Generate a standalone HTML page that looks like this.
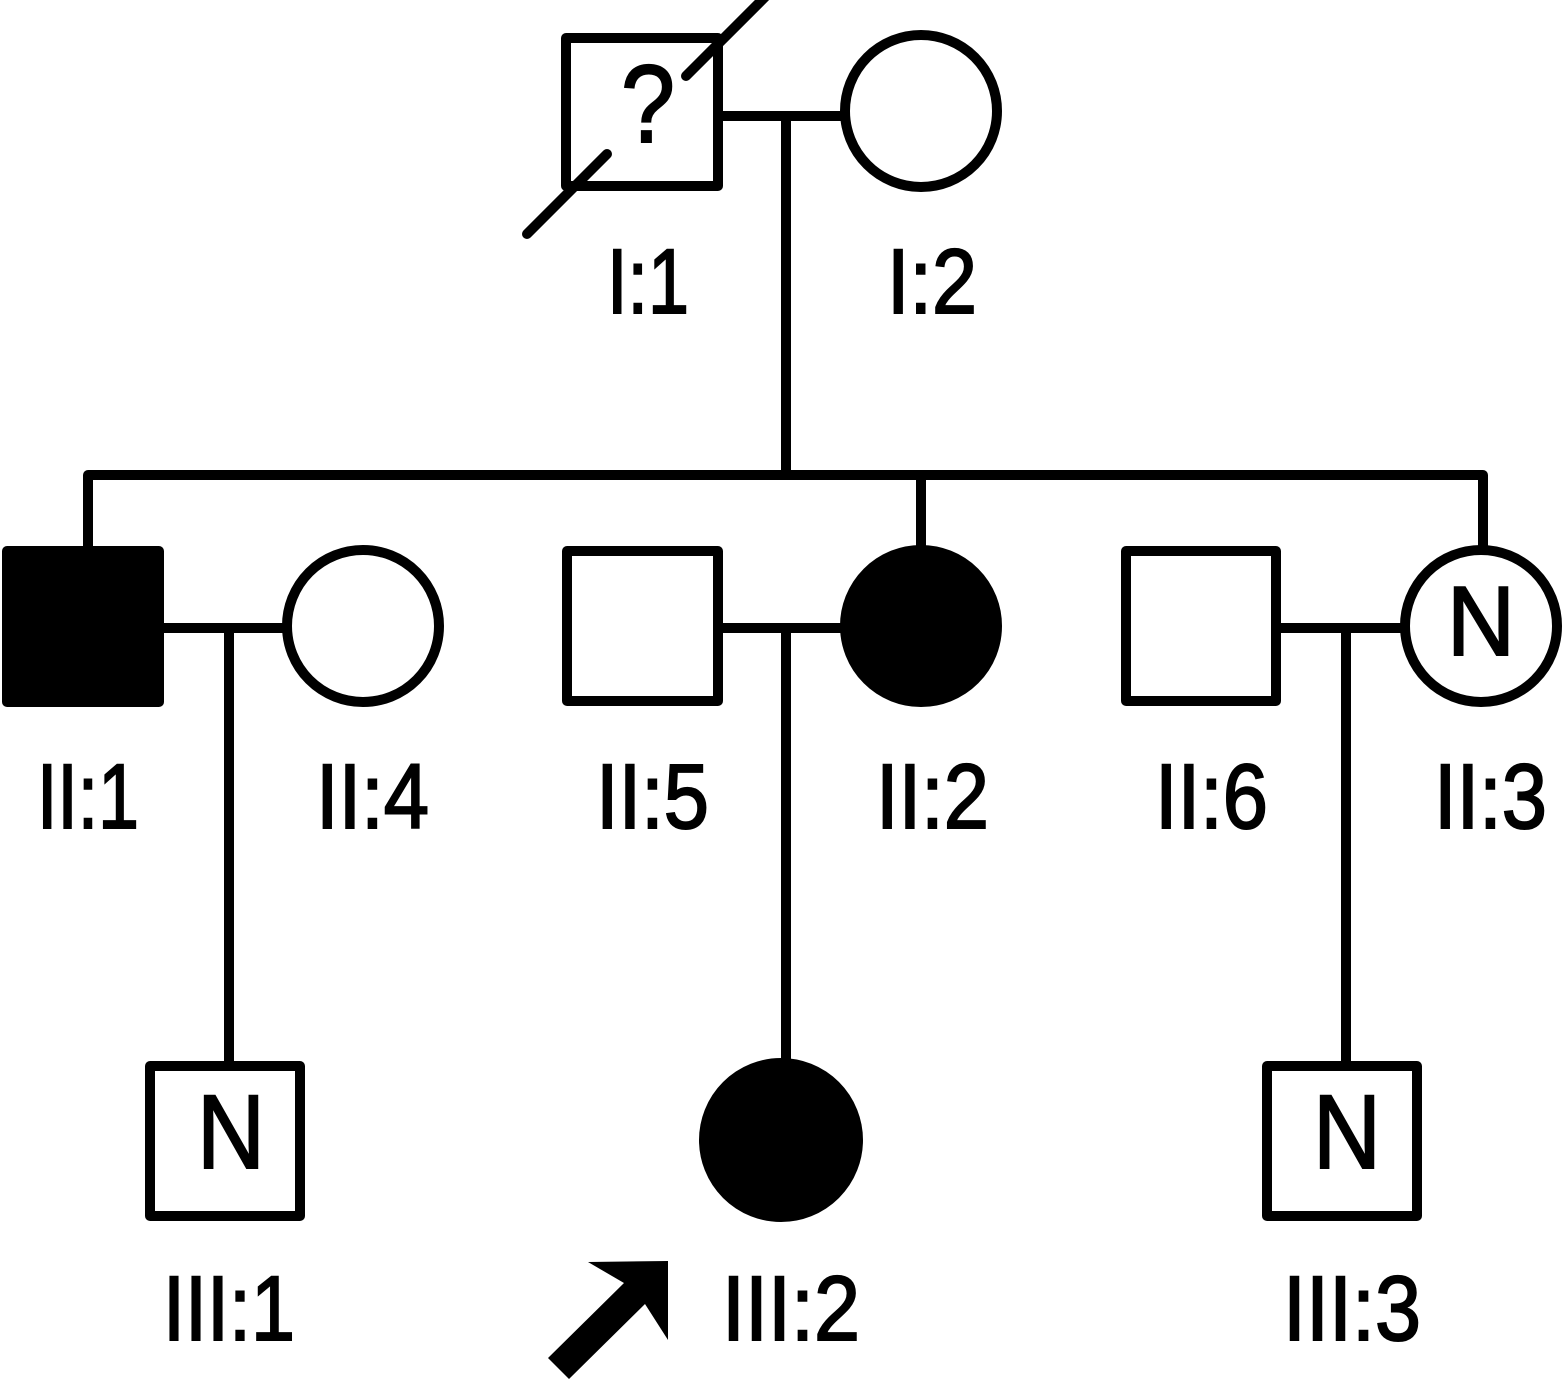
<!DOCTYPE html>
<html><head><style>body{margin:0;background:#fff}svg{display:block}</style></head>
<body>
<svg width="1568" height="1382" viewBox="0 0 1568 1382" xmlns="http://www.w3.org/2000/svg">
<g stroke="#000" stroke-width="10" fill="none" stroke-linejoin="round" stroke-linecap="round">
<rect x="566" y="38" width="152" height="148"/>
<circle cx="921" cy="111" r="76"/>
<line x1="718" y1="116" x2="845" y2="116" stroke-linecap="butt"/>
<line x1="786" y1="116" x2="786" y2="475" stroke-linecap="butt"/>
<line x1="527" y1="234" x2="607" y2="154"/>
<line x1="686" y1="76" x2="768" y2="-6"/>
<polyline points="88,550 88,475 1483,475 1483,550" stroke-linecap="butt"/>
<line x1="921" y1="475" x2="921" y2="550" stroke-linecap="butt"/>
<rect x="7" y="551" width="152" height="151" fill="#000"/>
<circle cx="363" cy="626" r="76"/>
<line x1="159" y1="628" x2="287" y2="628" stroke-linecap="butt"/>
<line x1="229" y1="628" x2="229" y2="1065" stroke-linecap="butt"/>
<rect x="567" y="551" width="151" height="150"/>
<circle cx="921" cy="626" r="76" fill="#000"/>
<line x1="718" y1="628" x2="845" y2="628" stroke-linecap="butt"/>
<line x1="786" y1="628" x2="786" y2="1063" stroke-linecap="butt"/>
<rect x="1126" y="551" width="150" height="150"/>
<circle cx="1481" cy="626" r="76"/>
<line x1="1276" y1="628" x2="1405" y2="628" stroke-linecap="butt"/>
<line x1="1346" y1="628" x2="1346" y2="1065" stroke-linecap="butt"/>
<rect x="150" y="1066" width="150" height="150"/>
<circle cx="781" cy="1140" r="77" fill="#000"/>
<rect x="1267" y="1066" width="150" height="150"/>
</g>
<polygon points="668,1261 588,1262 624,1283 548,1358 569,1379 645,1304 668,1340" fill="#000"/>
<g font-family="Liberation Sans, Arial, sans-serif" font-size="92" fill="#000" stroke="#000" stroke-width="2" lengthAdjust="spacingAndGlyphs">
<text x="621" y="142" font-size="110" textLength="54" lengthAdjust="spacingAndGlyphs">?</text>
<text x="607" y="313" textLength="82" lengthAdjust="spacingAndGlyphs">I:1</text>
<text x="887" y="313" textLength="90" lengthAdjust="spacingAndGlyphs">I:2</text>
<text x="37" y="828" textLength="102" lengthAdjust="spacingAndGlyphs">II:1</text>
<text x="316" y="828" textLength="113" lengthAdjust="spacingAndGlyphs">II:4</text>
<text x="596" y="828" textLength="113" lengthAdjust="spacingAndGlyphs">II:5</text>
<text x="876" y="828" textLength="113" lengthAdjust="spacingAndGlyphs">II:2</text>
<text x="1155" y="828" textLength="113" lengthAdjust="spacingAndGlyphs">II:6</text>
<text x="1434" y="828" textLength="113" lengthAdjust="spacingAndGlyphs">II:3</text>
<text x="163" y="1340" textLength="132" lengthAdjust="spacingAndGlyphs">III:1</text>
<text x="722" y="1340" textLength="138" lengthAdjust="spacingAndGlyphs">III:2</text>
<text x="1283" y="1340" textLength="138" lengthAdjust="spacingAndGlyphs">III:3</text>
<text x="1447" y="655" font-size="98" textLength="68" lengthAdjust="spacingAndGlyphs">N</text>
<text x="197" y="1168" font-size="105" textLength="68" lengthAdjust="spacingAndGlyphs">N</text>
<text x="1313" y="1168" font-size="105" textLength="68" lengthAdjust="spacingAndGlyphs">N</text>
</g>
</svg>
</body></html>
